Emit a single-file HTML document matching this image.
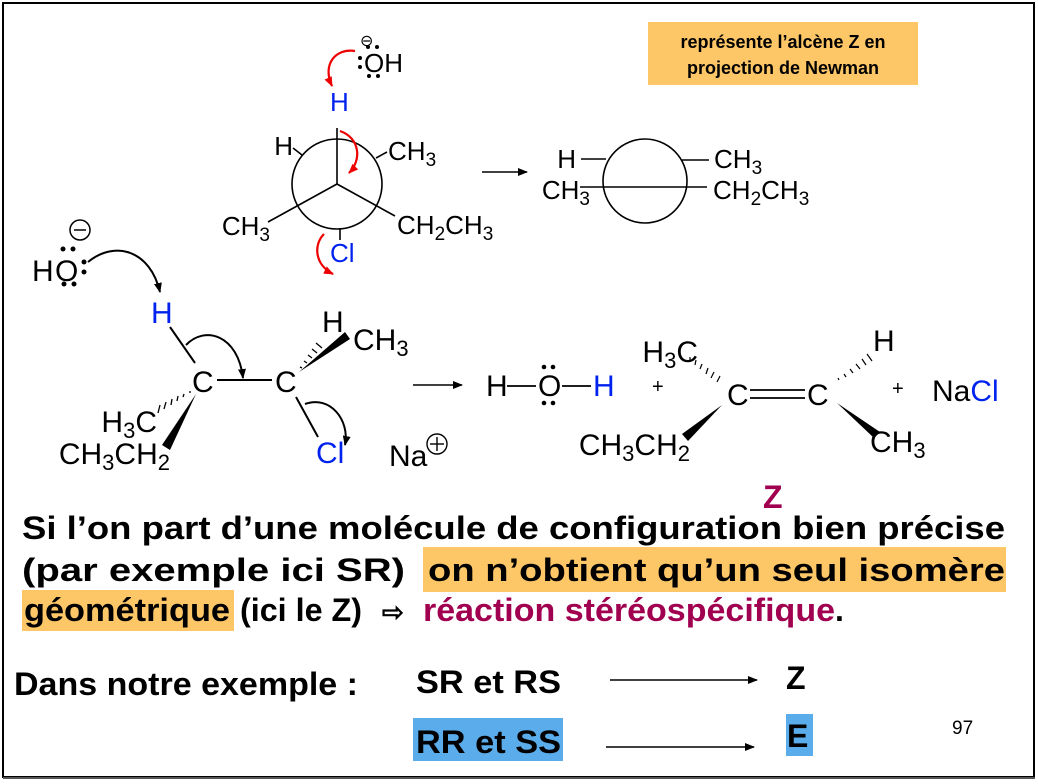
<!DOCTYPE html>
<html><head><meta charset="utf-8"><style>
html,body{margin:0;padding:0;background:#fff}
svg{display:block}
text{font-family:"Liberation Sans",Arial,sans-serif}
</style></head><body>
<svg width="1038" height="784" viewBox="0 0 1038 784" xmlns="http://www.w3.org/2000/svg">
<defs>
<marker id="ab" markerWidth="10" markerHeight="8" refX="9" refY="4" orient="auto" markerUnits="userSpaceOnUse"><path d="M0,0 L10,4 L0,8 Z" fill="#000"/></marker>
<marker id="ar" markerWidth="10" markerHeight="8" refX="9" refY="4" orient="auto" markerUnits="userSpaceOnUse"><path d="M0,0 L10,4 L0,8 Z" fill="#e00"/></marker>
</defs>
<rect x="3" y="3" width="1031" height="774" fill="none" stroke="#000" stroke-width="2"/>
<line x1="3" y1="778" x2="1035" y2="778" stroke="#555" stroke-width="2"/>

<rect x="648" y="22" width="270" height="63" fill="#fdc768"/>
<text x="783" y="48" font-size="18" font-weight="bold" text-anchor="middle">représente l’alcène Z en</text>
<text x="783" y="74" font-size="18" font-weight="bold" text-anchor="middle">projection de Newman</text>

<g stroke="#000" stroke-width="1.6" fill="none">
<circle cx="337" cy="184" r="45"/>
<line x1="337" y1="184" x2="337" y2="128"/>
<line x1="337" y1="184" x2="268" y2="222"/>
<line x1="337" y1="184" x2="395" y2="216"/>
<line x1="302" y1="155" x2="293" y2="148"/>
<line x1="376" y1="158" x2="387" y2="152"/>
<line x1="340" y1="228" x2="340" y2="240"/>
</g>
<g font-size="26">
<text x="293" y="155" text-anchor="end">H</text>
<text x="388" y="160">CH<tspan font-size="19" dy="6">3</tspan></text>
<text x="270" y="235" text-anchor="end">CH<tspan font-size="19" dy="6">3</tspan></text>
<text x="397" y="234">CH<tspan font-size="19" dy="6">2</tspan><tspan dy="-6">CH</tspan><tspan font-size="19" dy="6">3</tspan></text>
<text x="330" y="262" fill="#0022ee">Cl</text>
<text x="330" y="111" fill="#0022ee">H</text>
<text x="364" y="72">OH</text>
</g>
<text x="360" y="46" font-size="16">⊖</text>
<g fill="#000"><circle cx="360" cy="58" r="2"/><circle cx="360" cy="67" r="2"/><circle cx="368" cy="47" r="2"/><circle cx="377" cy="47" r="2"/><circle cx="369" cy="76" r="2"/><circle cx="378" cy="76" r="2"/></g>
<g stroke="#e00" stroke-width="2.2" fill="none">
<path d="M355,51 C335,48 322,65 332,86" marker-end="url(#ar)"/>
<path d="M340,131 C360,138 362,160 349,173" marker-end="url(#ar)"/>
<path d="M324,234 C313,245 315,265 333,274" marker-end="url(#ar)"/>
</g>
<line x1="482" y1="172" x2="527" y2="172" stroke="#000" stroke-width="1.4" marker-end="url(#ab)"/>

<g stroke="#000" stroke-width="1.6" fill="none">
<circle cx="645" cy="181" r="42"/>
<line x1="581" y1="159" x2="606" y2="159"/>
<line x1="682" y1="160" x2="709" y2="160"/>
<line x1="580" y1="187" x2="707" y2="187"/>
</g>
<g font-size="26">
<text x="576" y="168" text-anchor="end">H</text>
<text x="590" y="199" text-anchor="end">CH<tspan font-size="19" dy="6">3</tspan></text>
<text x="714" y="168">CH<tspan font-size="19" dy="6">3</tspan></text>
<text x="713" y="199">CH<tspan font-size="19" dy="6">2</tspan><tspan dy="-6">CH</tspan><tspan font-size="19" dy="6">3</tspan></text>
</g>

<g font-size="30">
<text x="32" y="281">H</text><text x="55" y="281">O</text>
<text x="151" y="323" fill="#0022ee">H</text>
<text x="192" y="392">C</text>
<text x="275" y="392">C</text>
<text x="157" y="432" text-anchor="end">H<tspan font-size="22" dy="6">3</tspan><tspan dy="-6">C</tspan></text>
<text x="170" y="464" text-anchor="end">CH<tspan font-size="22" dy="6">3</tspan><tspan dy="-6">CH</tspan><tspan font-size="22" dy="6">2</tspan></text>
<text x="322" y="332">H</text>
<text x="353" y="350">CH<tspan font-size="22" dy="6">3</tspan></text>
<text x="316" y="463" fill="#0022ee">Cl</text>
<text x="389" y="466">Na</text>
</g>
<circle cx="80" cy="230" r="10" fill="none" stroke="#000" stroke-width="1.5"/><line x1="74" y1="230" x2="86" y2="230" stroke="#000" stroke-width="1.5"/>
<circle cx="437" cy="444" r="10" fill="none" stroke="#000" stroke-width="1.4"/><line x1="430" y1="444" x2="444" y2="444" stroke="#000" stroke-width="1.4"/><line x1="437" y1="437" x2="437" y2="451" stroke="#000" stroke-width="1.4"/>
<g fill="#000"><circle cx="63" cy="249" r="2.5"/><circle cx="73" cy="249" r="2.5"/><circle cx="64" cy="284" r="2.5"/><circle cx="74" cy="284" r="2.5"/><circle cx="84" cy="262" r="2.5"/><circle cx="84" cy="272" r="2.5"/></g>
<g stroke="#000" stroke-width="2" fill="none">
<path d="M88,262 C115,240 150,250 160,292" marker-end="url(#ab)"/>
<line x1="170" y1="327" x2="195" y2="363"/>
<line x1="217" y1="380" x2="272" y2="380"/>
<path d="M186,345 C205,325 238,335 243,378" marker-end="url(#ab)"/>
<line x1="296" y1="397" x2="318" y2="437"/>
<path d="M305,404 C330,395 350,420 345,445" marker-end="url(#ab)"/>
</g>
<path d="M196,394 L170,450 L162,445 Z" fill="#000"/>
<path d="M299,372 L350,339 L345,332 Z" fill="#000"/>
<g stroke="#000" stroke-width="1.3">
<line x1="190" y1="391" x2="190" y2="393"/><line x1="184" y1="394" x2="183" y2="397"/><line x1="178" y1="396" x2="177" y2="401"/><line x1="172" y1="399" x2="171" y2="405"/><line x1="166" y1="402" x2="164" y2="409"/><line x1="160" y1="405" x2="158" y2="413"/>
<line x1="300" y1="367" x2="302" y2="368"/><line x1="304" y1="361" x2="307" y2="363"/><line x1="308" y1="355" x2="312" y2="358"/><line x1="312" y1="349" x2="317" y2="353"/><line x1="316" y1="343" x2="322" y2="348"/>
</g>
<line x1="413" y1="385" x2="462" y2="385" stroke="#000" stroke-width="1.4" marker-end="url(#ab)"/>

<g font-size="30">
<text x="486" y="396">H</text>
<text x="538" y="396">O</text>
<text x="593" y="396" fill="#0022ee">H</text>
<text x="727" y="405">C</text>
<text x="807" y="405">C</text>
<text x="698" y="362" text-anchor="end">H<tspan font-size="22" dy="6">3</tspan><tspan dy="-6">C</tspan></text>
<text x="873" y="351">H</text>
<text x="690" y="455" text-anchor="end">CH<tspan font-size="22" dy="6">3</tspan><tspan dy="-6">CH</tspan><tspan font-size="22" dy="6">2</tspan></text>
<text x="870" y="452">CH<tspan font-size="22" dy="6">3</tspan></text>
<text x="932" y="401">Na<tspan fill="#0022ee">Cl</tspan></text>
</g>
<text x="652" y="393" font-size="20">+</text>
<text x="892" y="395" font-size="20">+</text>
<g fill="#000"><circle cx="544" cy="367" r="2.3"/><circle cx="553" cy="367" r="2.3"/><circle cx="544" cy="403" r="2.3"/><circle cx="553" cy="403" r="2.3"/></g>
<g stroke="#000" stroke-width="1.8">
<line x1="507" y1="386" x2="536" y2="386"/>
<line x1="562" y1="386" x2="591" y2="386"/>
<line x1="750" y1="390" x2="805" y2="390"/>
<line x1="750" y1="398" x2="805" y2="398"/>
</g>
<path d="M722,405 L688,441 L682,434 Z" fill="#000"/>
<path d="M837,403 L880,432 L874,438 Z" fill="#000"/>
<g stroke="#000" stroke-width="1.2">
<line x1="690" y1="357" x2="690" y2="360"/><line x1="696" y1="360" x2="695" y2="365"/><line x1="702" y1="364" x2="700" y2="369"/><line x1="708" y1="368" x2="706" y2="374"/><line x1="714" y1="372" x2="711" y2="378"/><line x1="720" y1="376" x2="717" y2="382"/>
<line x1="838" y1="378" x2="839" y2="380"/><line x1="844" y1="374" x2="846" y2="377"/><line x1="850" y1="369" x2="853" y2="373"/><line x1="856" y1="364" x2="860" y2="369"/><line x1="862" y1="359" x2="866" y2="365"/><line x1="867" y1="354" x2="872" y2="361"/>
</g>
<text x="763" y="508" font-size="32" font-weight="bold" fill="#a0004f">Z</text>

<rect x="423" y="547" width="583" height="45" fill="#fdc768"/>
<rect x="22" y="590" width="212" height="41" fill="#fdc768"/>
<g font-size="32" font-weight="bold">
<text x="22" y="539" textLength="983" lengthAdjust="spacingAndGlyphs">Si l’on part d’une molécule de configuration bien précise</text>
<text x="22" y="581" textLength="383" lengthAdjust="spacingAndGlyphs">(par exemple ici SR)</text>
<text x="428" y="581" textLength="577" lengthAdjust="spacingAndGlyphs">on n’obtient qu’un seul isomère</text>
<text x="24" y="621" textLength="206" lengthAdjust="spacingAndGlyphs">géométrique</text>
<text x="240" y="621" textLength="122" lengthAdjust="spacingAndGlyphs">(ici le Z)</text>
<text x="382" y="621" font-size="26">⇨</text>
<text x="423" y="621" textLength="412" lengthAdjust="spacingAndGlyphs" fill="#a0004f">réaction stéréospécifique</text>
<text x="835" y="621">.</text>
<text x="14" y="695" textLength="344" lengthAdjust="spacingAndGlyphs">Dans notre exemple :</text>
<text x="416" y="693" textLength="145" lengthAdjust="spacingAndGlyphs">SR et RS</text>
<text x="786" y="689">Z</text>
</g>
<rect x="413" y="718" width="150" height="43" fill="#5aacea"/>
<rect x="786" y="714" width="27" height="42" fill="#5aacea"/>
<g font-size="32" font-weight="bold">
<text x="416" y="753" textLength="145" lengthAdjust="spacingAndGlyphs">RR et SS</text>
<text x="787" y="747">E</text>
</g>
<line x1="610" y1="680" x2="757" y2="680" stroke="#000" stroke-width="1.4" marker-end="url(#ab)"/>
<line x1="606" y1="747" x2="754" y2="747" stroke="#000" stroke-width="1.4" marker-end="url(#ab)"/>
<text x="952" y="734" font-size="19">97</text>
</svg>
</body></html>
